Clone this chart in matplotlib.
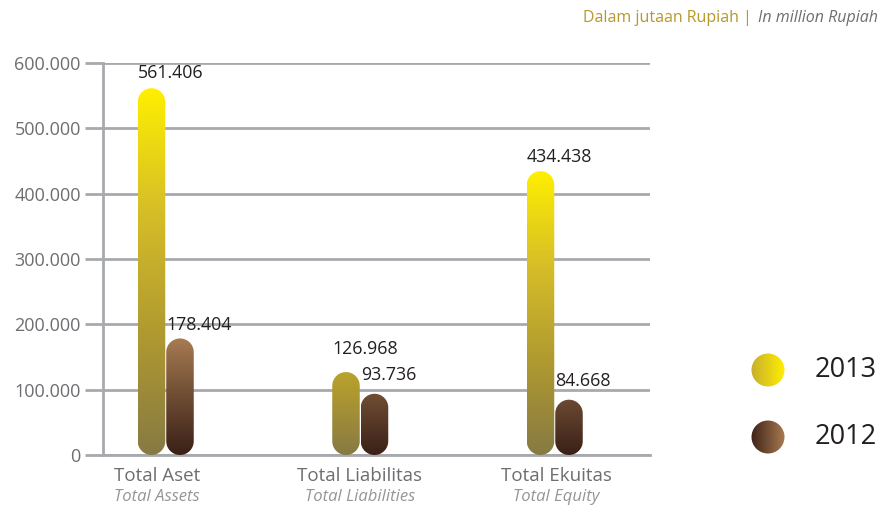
import numpy as np
import matplotlib
matplotlib.use("Agg")
import matplotlib.pyplot as plt
from matplotlib.path import Path
from matplotlib.patches import PathPatch, Circle
from matplotlib.colors import LinearSegmentedColormap

categories = ["Total Aset", "Total Liabilitas", "Total Ekuitas"]
categories_en = ["Total Assets", "Total Liabilities", "Total Equity"]
years = ["2013", "2012"]
values_2013 = [561.406, 126.968, 434.438]
values_2012 = [178.404, 93.736, 84.668]
value_labels_2013 = ["561.406", "126.968", "434.438"]
value_labels_2012 = ["178.404", "93.736", "84.668"]
yticks = [0, 100, 200, 300, 400, 500, 600]
ytick_labels = ["0", "100.000", "200.000", "300.000", "400.000", "500.000", "600.000"]

W, H, DPI = 879, 507, 100
fig = plt.figure(figsize=(W / DPI, H / DPI), dpi=DPI)
plt.rcParams['font.family'] = ['Open Sans', 'DejaVu Sans']

ax_l, ax_r, ax_t, ax_b = 103, 650, 63, 455
ax = fig.add_axes([ax_l / W, 1 - ax_b / H, (ax_r - ax_l) / W, (ax_b - ax_t) / H])
ax.set_ylim(0, 600)
px_per_x = 194.5
xmin = (ax_l - 166) / px_per_x
xmax = (ax_r - 166) / px_per_x
ax.set_xlim(xmin, xmax)
px_per_y = (ax_b - ax_t) / 600.0

grid_c = "#A7A9AC"
for s in ["top", "right"]:
    ax.spines[s].set_visible(False)
for s in ["left", "bottom"]:
    ax.spines[s].set_color(grid_c)
    ax.spines[s].set_linewidth(2.0)
ax.set_yticks(yticks)
ax.set_yticklabels(ytick_labels, color="#6D6E71", fontsize=13)
ax.tick_params(axis="y", length=13, width=2.0, color=grid_c, pad=3)
ax.set_xticks([])
ax.grid(axis="y", color=grid_c, linewidth=2.0)
ax.set_axisbelow(True)

cmap13 = LinearSegmentedColormap.from_list("c13", ["#877A43", "#B09A30", "#D6BE28", "#FFEF00"])
cmap12 = LinearSegmentedColormap.from_list("c12", ["#3A2016", "#6E4C33", "#A87B52"])
grad_span = [300.0, 178.404]

bar_w_px = 27.5
bw = bar_w_px / px_per_x
r_x = bw / 2
r_y = (bar_w_px / 2) / px_per_y


def pill(xc, top):
    x0, x1 = xc - r_x, xc + r_x
    th = np.linspace(0, np.pi, 30)
    top_pts = [(xc + r_x * np.cos(t), top - r_y + r_y * np.sin(t)) for t in th]
    bot_pts = [(xc - r_x * np.cos(t), 0 + r_y - r_y * np.sin(t)) for t in th]
    pts = [(x1, r_y)] + [(x1, top - r_y)] + top_pts + [(x0, r_y)] + bot_pts + [(x1, r_y)]
    codes = [Path.MOVETO] + [Path.LINETO] * (len(pts) - 2) + [Path.CLOSEPOLY]
    return Path(pts, codes)


def draw_bar(xc, top, cmap, span):
    p = pill(xc, top)
    patch = PathPatch(p, facecolor="none", edgecolor="none")
    ax.add_patch(patch)
    grad = np.linspace(0, 1, 256).reshape(-1, 1)
    vmax = max(top, span)
    im = ax.imshow(grad, cmap=cmap, origin="lower", aspect="auto",
                   extent=[xc - r_x, xc + r_x, 0, vmax], zorder=3, interpolation="bilinear")
    im.set_clip_path(patch)


off13 = -14.5 / px_per_x
off12 = 14.0 / px_per_x
label_raise = [10, 18, 9]
label_raise12 = [8, 14, 14]
for i in range(len(categories)):
    x13 = i + off13
    x12 = i + off12
    draw_bar(x13, values_2013[i], cmap13, grad_span[0])
    draw_bar(x12, values_2012[i], cmap12, grad_span[1])
    ax.annotate(value_labels_2013[i], (x13 - r_x, values_2013[i]), xytext=(0, label_raise[i] * 0.72),
                textcoords="offset points", ha="left", va="baseline", fontsize=12.8, color="#231F20", zorder=5)
    ax.annotate(value_labels_2012[i], (x12 - r_x, values_2012[i]), xytext=(0, label_raise12[i] * 0.72),
                textcoords="offset points", ha="left", va="baseline", fontsize=12.8, color="#231F20", zorder=5)

cat_px = [157, 360, 556]
for i in range(len(categories)):
    xd = (cat_px[i] - 166) / px_per_x
    ax.annotate(categories[i], (xd, 0), xytext=(0, -26 * 0.72), textcoords="offset points",
                ha="center", va="baseline", fontsize=13.5, color="#6D6E71", annotation_clip=False)
    ax.annotate(categories_en[i], (xd, 0), xytext=(0, -46 * 0.72), textcoords="offset points",
                ha="center", va="baseline", fontsize=12, color="#939598", style="italic", annotation_clip=False)

# header
t2 = fig.text(878 / W, 1 - 18 / H, "In million Rupiah", ha="right", va="center",
              fontsize=11.5, color="#6D6E71", style="italic")
fig.canvas.draw()
r = fig.canvas.get_renderer()
bb = t2.get_window_extent(r)
t1 = fig.text(bb.x0 / W - 2 / W, 1 - 18 / H, "Dalam jutaan Rupiah | ", ha="right", va="center",
              fontsize=11.5, color="#B8982A")

# legend
lax = fig.add_axes([0, 0, 1, 1], facecolor="none")
lax.set_xlim(0, W)
lax.set_ylim(H, 0)
lax.axis("off")
leg_c = [["#C8AE2E", "#FFEF00"], ["#3E2317", "#A87A52"]]
leg_y = [370, 437]
for j, yr in enumerate(years):
    cm = LinearSegmentedColormap.from_list("l%d" % j, leg_c[j])
    c = Circle((768, leg_y[j]), 16.5, facecolor="none", edgecolor="none")
    lax.add_patch(c)
    grad = np.linspace(0, 1, 256).reshape(1, -1)
    im = lax.imshow(grad, cmap=cm, extent=[751, 785, leg_y[j] + 17, leg_y[j] - 17], aspect="auto")
    im.set_clip_path(c)
    lax.text(815, leg_y[j], yr, ha="left", va="center", fontsize=19.5, color="#231F20")
lax.set_xlim(0, W)
lax.set_ylim(H, 0)

fig.savefig("out.png", dpi=DPI)
